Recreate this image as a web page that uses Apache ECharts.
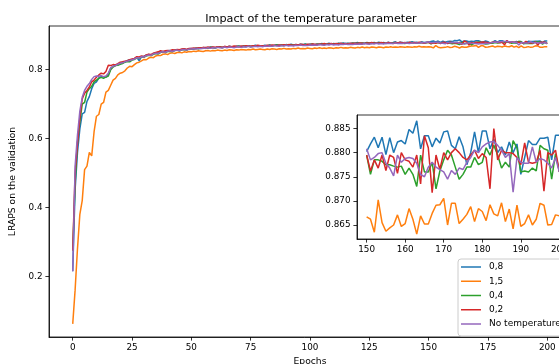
<!DOCTYPE html>
<html><head><meta charset="utf-8">
<script src="https://cdn.jsdelivr.net/npm/echarts@6/dist/echarts.min.js"></script>
<style>html,body{margin:0;padding:0;background:#fff}#c{width:559px;height:364px}</style>
</head><body><div id="c"></div>
<script>
const seriesNames = ['0,8', '1,5', '0,4', '0,2', 'No temperature'];
const mainXTicks = [0, 25, 50, 75, 100, 125, 150, 175, 200];
const mainYTicks = [0.2, 0.4, 0.6, 0.8];
const insetXTicks = [150, 160, 170, 180, 190, 200];
const insetYTicks = [0.865, 0.870, 0.875, 0.880, 0.885];

const t08 = [
0.215,0.452,0.560,0.628,0.672,0.676,0.708,0.722,0.745,0.760,
0.765,0.776,0.780,0.779,0.778,0.786,0.805,0.810,0.812,0.815,
0.818,0.821,0.823,0.826,0.829,0.830,0.832,0.836,0.826,0.838,
0.839,0.842,0.844,0.843,0.847,0.849,0.848,0.852,0.853,0.851,
0.855,0.856,0.854,0.857,0.858,0.856,0.859,0.860,0.858,0.861,
0.862,0.861,0.863,0.862,0.864,0.863,0.865,0.863,0.866,0.865,
0.864,0.866,0.867,0.865,0.867,0.866,0.868,0.867,0.866,0.868,
0.869,0.867,0.869,0.868,0.870,0.868,0.869,0.871,0.869,0.870,
0.869,0.871,0.870,0.872,0.870,0.871,0.873,0.871,0.872,0.871,
0.873,0.872,0.874,0.872,0.873,0.872,0.874,0.873,0.875,0.873,
0.874,0.875,0.873,0.875,0.874,0.876,0.874,0.875,0.877,0.875,
0.876,0.875,0.877,0.876,0.878,0.876,0.877,0.876,0.878,0.877,
0.879,0.877,0.878,0.877,0.879,0.878,0.877,0.879,0.878,0.880,
0.878,0.879,0.877,0.880,0.878,0.879,0.881,0.878,0.880,0.879,
0.878,0.880,0.879,0.881,0.879,0.880,0.878,0.881,0.879,0.880,
0.8802,0.8818,0.8832,0.8810,0.8832,0.8796,0.8831,0.8800,0.8822,0.8825,
0.8818,0.8848,0.8840,0.8866,0.8808,0.8835,0.8835,0.8812,0.8830,0.8820,
0.8843,0.8845,0.8815,0.8808,0.8833,0.8812,0.8775,0.8800,0.8843,0.8800,
0.8845,0.8845,0.8808,0.8828,0.8800,0.8812,0.8795,0.8822,0.8800,0.8818,
0.8755,0.8790,0.8825,0.8817,0.8817,0.8830,0.8830,0.8832,0.8785,0.8836,0.8836];

const t15 = [
0.062,0.160,0.280,0.380,0.420,0.510,0.520,0.560,0.550,0.620,
0.665,0.670,0.700,0.705,0.735,0.740,0.755,0.770,0.775,0.785,
0.790,0.792,0.797,0.805,0.810,0.809,0.815,0.820,0.822,0.826,
0.830,0.829,0.834,0.836,0.835,0.840,0.842,0.841,0.845,0.846,
0.844,0.848,0.849,0.847,0.850,0.851,0.849,0.852,0.851,0.853,
0.852,0.854,0.853,0.855,0.854,0.853,0.855,0.856,0.854,0.856,
0.855,0.857,0.856,0.855,0.857,0.856,0.858,0.857,0.856,0.858,
0.857,0.859,0.858,0.857,0.859,0.858,0.860,0.858,0.859,0.860,
0.859,0.858,0.860,0.859,0.861,0.860,0.859,0.861,0.860,0.862,
0.860,0.861,0.860,0.862,0.861,0.863,0.861,0.862,0.861,0.863,
0.862,0.861,0.863,0.862,0.864,0.862,0.863,0.862,0.864,0.863,
0.862,0.864,0.863,0.865,0.863,0.864,0.863,0.865,0.864,0.863,
0.865,0.864,0.866,0.864,0.865,0.864,0.866,0.865,0.864,0.866,
0.865,0.864,0.866,0.865,0.867,0.865,0.866,0.865,0.867,0.866,
0.865,0.867,0.866,0.865,0.867,0.866,0.868,0.866,0.867,0.866,
0.8667,0.8662,0.8635,0.8702,0.8655,0.8637,0.8644,0.8650,0.8671,0.8647,
0.8653,0.8684,0.8662,0.8631,0.8669,0.8652,0.8652,0.8674,0.8691,0.8692,
0.8705,0.8650,0.8695,0.8695,0.8653,0.8662,0.8672,0.8688,0.8657,0.8684,
0.8678,0.8659,0.8692,0.8673,0.8669,0.8696,0.8657,0.8683,0.8642,0.8691,
0.8647,0.8653,0.8671,0.8650,0.8662,0.8695,0.8691,0.8650,0.8651,0.8671,0.8669];

const t04 = [
0.275,0.470,0.590,0.650,0.700,0.705,0.735,0.745,0.752,0.765,
0.770,0.775,0.778,0.775,0.779,0.782,0.800,0.808,0.812,0.813,
0.816,0.818,0.822,0.824,0.823,0.828,0.830,0.834,0.833,0.837,
0.836,0.840,0.842,0.841,0.845,0.847,0.846,0.850,0.852,0.850,
0.853,0.854,0.853,0.856,0.857,0.855,0.858,0.859,0.857,0.860,
0.861,0.860,0.862,0.861,0.863,0.862,0.864,0.862,0.865,0.864,
0.863,0.865,0.866,0.864,0.866,0.865,0.867,0.866,0.865,0.867,
0.868,0.866,0.868,0.867,0.869,0.867,0.868,0.870,0.868,0.869,
0.868,0.870,0.869,0.871,0.869,0.870,0.872,0.870,0.871,0.870,
0.872,0.871,0.873,0.871,0.872,0.871,0.873,0.872,0.874,0.872,
0.873,0.874,0.872,0.874,0.873,0.875,0.873,0.874,0.875,0.874,
0.875,0.874,0.876,0.875,0.876,0.875,0.876,0.875,0.877,0.876,
0.877,0.876,0.877,0.876,0.878,0.877,0.876,0.878,0.877,0.878,
0.877,0.878,0.876,0.878,0.877,0.878,0.879,0.877,0.878,0.877,
0.876,0.878,0.877,0.879,0.877,0.878,0.877,0.879,0.878,0.878,
0.8795,0.8755,0.8785,0.8785,0.8782,0.8775,0.8775,0.8772,0.8770,0.8772,
0.8755,0.8768,0.8755,0.8730,0.8795,0.8760,0.8760,0.8780,0.8725,0.8762,
0.8785,0.8805,0.8795,0.8770,0.8745,0.8755,0.8770,0.8770,0.8790,0.8775,
0.8780,0.8810,0.8795,0.8815,0.8795,0.8768,0.8780,0.8770,0.8825,0.8810,
0.8760,0.8762,0.8760,0.8768,0.8762,0.8815,0.8808,0.8805,0.8745,0.8798,0.8760];

const t02 = [
0.275,0.500,0.585,0.660,0.715,0.732,0.740,0.750,0.765,0.770,
0.778,0.785,0.790,0.788,0.795,0.813,0.812,0.815,0.814,0.818,
0.822,0.823,0.825,0.826,0.829,0.831,0.833,0.838,0.837,0.840,
0.838,0.843,0.845,0.844,0.848,0.850,0.852,0.855,0.853,0.855,
0.856,0.855,0.858,0.857,0.859,0.858,0.860,0.861,0.859,0.862,
0.862,0.863,0.862,0.864,0.863,0.865,0.864,0.866,0.864,0.866,
0.865,0.867,0.866,0.865,0.868,0.866,0.868,0.867,0.869,0.868,
0.867,0.869,0.868,0.870,0.869,0.868,0.870,0.869,0.871,0.870,
0.870,0.869,0.871,0.870,0.872,0.871,0.870,0.872,0.871,0.873,
0.871,0.873,0.872,0.871,0.873,0.872,0.874,0.873,0.872,0.874,
0.873,0.875,0.874,0.873,0.875,0.874,0.876,0.874,0.875,0.876,
0.874,0.876,0.875,0.877,0.875,0.876,0.875,0.877,0.876,0.877,
0.876,0.878,0.877,0.876,0.878,0.877,0.879,0.877,0.878,0.877,
0.879,0.878,0.877,0.879,0.878,0.876,0.879,0.878,0.880,0.878,
0.879,0.877,0.880,0.878,0.879,0.878,0.880,0.879,0.877,0.879,
0.8795,0.8762,0.8785,0.8768,0.8795,0.8763,0.8795,0.8790,0.8757,0.8800,
0.8785,0.8782,0.8770,0.8795,0.8735,0.8835,0.8810,0.8717,0.8795,0.8765,
0.8800,0.8785,0.8800,0.8808,0.8800,0.8790,0.8785,0.8795,0.8805,0.8788,
0.8798,0.8790,0.8725,0.8850,0.8785,0.8805,0.8800,0.8800,0.8798,0.8790,
0.8775,0.8820,0.8780,0.8778,0.8780,0.8805,0.8720,0.8800,0.8795,0.8805,0.8760];

const tNone = [
0.215,0.520,0.610,0.680,0.720,0.740,0.752,0.760,0.772,0.780,
0.782,0.781,0.783,0.780,0.782,0.790,0.805,0.810,0.812,0.816,
0.819,0.820,0.823,0.825,0.827,0.829,0.831,0.835,0.834,0.838,
0.837,0.841,0.843,0.842,0.846,0.848,0.847,0.851,0.852,0.850,
0.854,0.855,0.853,0.856,0.857,0.855,0.858,0.859,0.857,0.860,
0.860,0.861,0.860,0.862,0.861,0.863,0.862,0.864,0.862,0.864,
0.863,0.865,0.864,0.863,0.866,0.864,0.866,0.865,0.864,0.866,
0.867,0.865,0.867,0.866,0.868,0.866,0.867,0.868,0.867,0.868,
0.867,0.869,0.868,0.869,0.868,0.870,0.869,0.868,0.870,0.869,
0.871,0.869,0.870,0.869,0.871,0.870,0.872,0.870,0.871,0.870,
0.872,0.871,0.872,0.871,0.873,0.872,0.871,0.873,0.872,0.874,
0.872,0.873,0.872,0.874,0.873,0.875,0.873,0.874,0.873,0.875,
0.874,0.875,0.874,0.876,0.875,0.874,0.876,0.875,0.877,0.875,
0.876,0.875,0.877,0.876,0.877,0.876,0.878,0.876,0.877,0.876,
0.878,0.877,0.876,0.878,0.877,0.878,0.877,0.879,0.878,0.879,
0.8808,0.8785,0.8790,0.8798,0.8800,0.8778,0.8768,0.8752,0.8795,0.8780,
0.8788,0.8790,0.8788,0.8778,0.8755,0.8750,0.8770,0.8780,0.8770,0.8765,
0.8760,0.8745,0.8763,0.8755,0.8768,0.8765,0.8780,0.8790,0.8805,0.8800,
0.8812,0.8818,0.8822,0.8823,0.8815,0.8805,0.8790,0.8798,0.8718,0.8790,
0.8780,0.8778,0.8778,0.8812,0.8780,0.8788,0.8785,0.8778,0.8768,0.8790,0.8760];

const colors = ['#1f77b4', '#ff7f0e', '#2ca02c', '#d62728', '#9467bd'];
const allSeries = [t08, t15, t04, t02, tNone];
const insetStart = 150;

const FONT = 'DejaVu Sans';
const lbl = {color: '#000', fontFamily: FONT, fontSize: 8.8};

function valAxis(gridIndex, min, max, ticks, fmt, extra) {
  return Object.assign({
    type: 'value', gridIndex, min, max, scale: true,
    splitLine: {show: false},
    axisLine: {show: true, onZero: false, lineStyle: {color: '#000', width: 0.8}},
    axisTick: {show: true, inside: false, length: 3.6, lineStyle: {color: '#000', width: 0.8}, customValues: ticks},
    axisLabel: Object.assign({margin: 6.5, customValues: ticks, formatter: fmt}, lbl)
  }, extra || {});
}

const series = [];
allSeries.forEach((arr, k) => {
  series.push({
    name: seriesNames[k], type: 'line', xAxisIndex: 0, yAxisIndex: 0,
    data: arr.map((v, i) => [i, v]), showSymbol: false, symbol: 'none',
    lineStyle: {width: 1.5, color: colors[k]}, itemStyle: {color: colors[k]},
    z: 2 + k * 0.01, silent: true
  });
});
allSeries.forEach((arr, k) => {
  series.push({
    name: seriesNames[k], type: 'line', xAxisIndex: 1, yAxisIndex: 1,
    data: arr.slice(insetStart).map((v, i) => [i + insetStart, v]), showSymbol: false, symbol: 'none',
    lineStyle: {width: 1.5, color: colors[k]}, itemStyle: {color: colors[k]},
    clip: true, z: 5 + k * 0.01, silent: true
  });
});

const chart = echarts.init(document.getElementById('c'), null, {renderer: 'canvas'});
chart.setOption({
  animation: false,
  backgroundColor: '#fff',
  color: colors,
  title: {
    text: 'Impact of the temperature parameter', left: 306, top: 9, textAlign: 'center',
    textStyle: {fontFamily: FONT, fontSize: 11.2, fontWeight: 'normal', color: '#000'}
  },
  grid: [
    {left: 49, top: 26, width: 522, height: 311, show: true, borderColor: '#000', borderWidth: 0.8, backgroundColor: 'transparent', outerBoundsMode: 'none', containLabel: false},
    {left: 357, top: 115, width: 212, height: 124, show: true, borderColor: '#000', borderWidth: 0.8, backgroundColor: '#fff', outerBoundsMode: 'none', containLabel: false, z: 4}
  ],
  xAxis: [
    valAxis(0, -10, 210, mainXTicks, v => String(v), {name: 'Epochs', nameLocation: 'middle', nameGap: 18.5, nameTextStyle: {fontFamily: FONT, fontSize: 9.2, color: '#000'}}),
    valAxis(1, 147.5, 202.5, insetXTicks, v => String(v), {z: 5})
  ],
  yAxis: [
    valAxis(0, 0.024, 0.927, mainYTicks, v => v.toFixed(1), {name: 'LRAPS on the validation', nameLocation: 'middle', nameGap: 25, nameTextStyle: {fontFamily: FONT, fontSize: 9.2, color: '#000'}}),
    valAxis(1, 0.8621, 0.8878, insetYTicks, v => v.toFixed(3), {z: 5})
  ],
  legend: {
    data: seriesNames, orient: 'vertical', left: 458, top: 259,
    icon: 'rect', itemWidth: 20, itemHeight: 1.5, itemGap: 4.25,
    padding: [3, 4, 7, 3],
    backgroundColor: 'rgba(255,255,255,0.8)', borderColor: '#cccccc', borderWidth: 1, borderRadius: 3,
    textStyle: {fontFamily: FONT, fontSize: 9, color: '#000', lineHeight: 10, padding: [0, 0, 0, 3]},
    selectedMode: false, z: 10
  },
  series
});
</script></body></html>
